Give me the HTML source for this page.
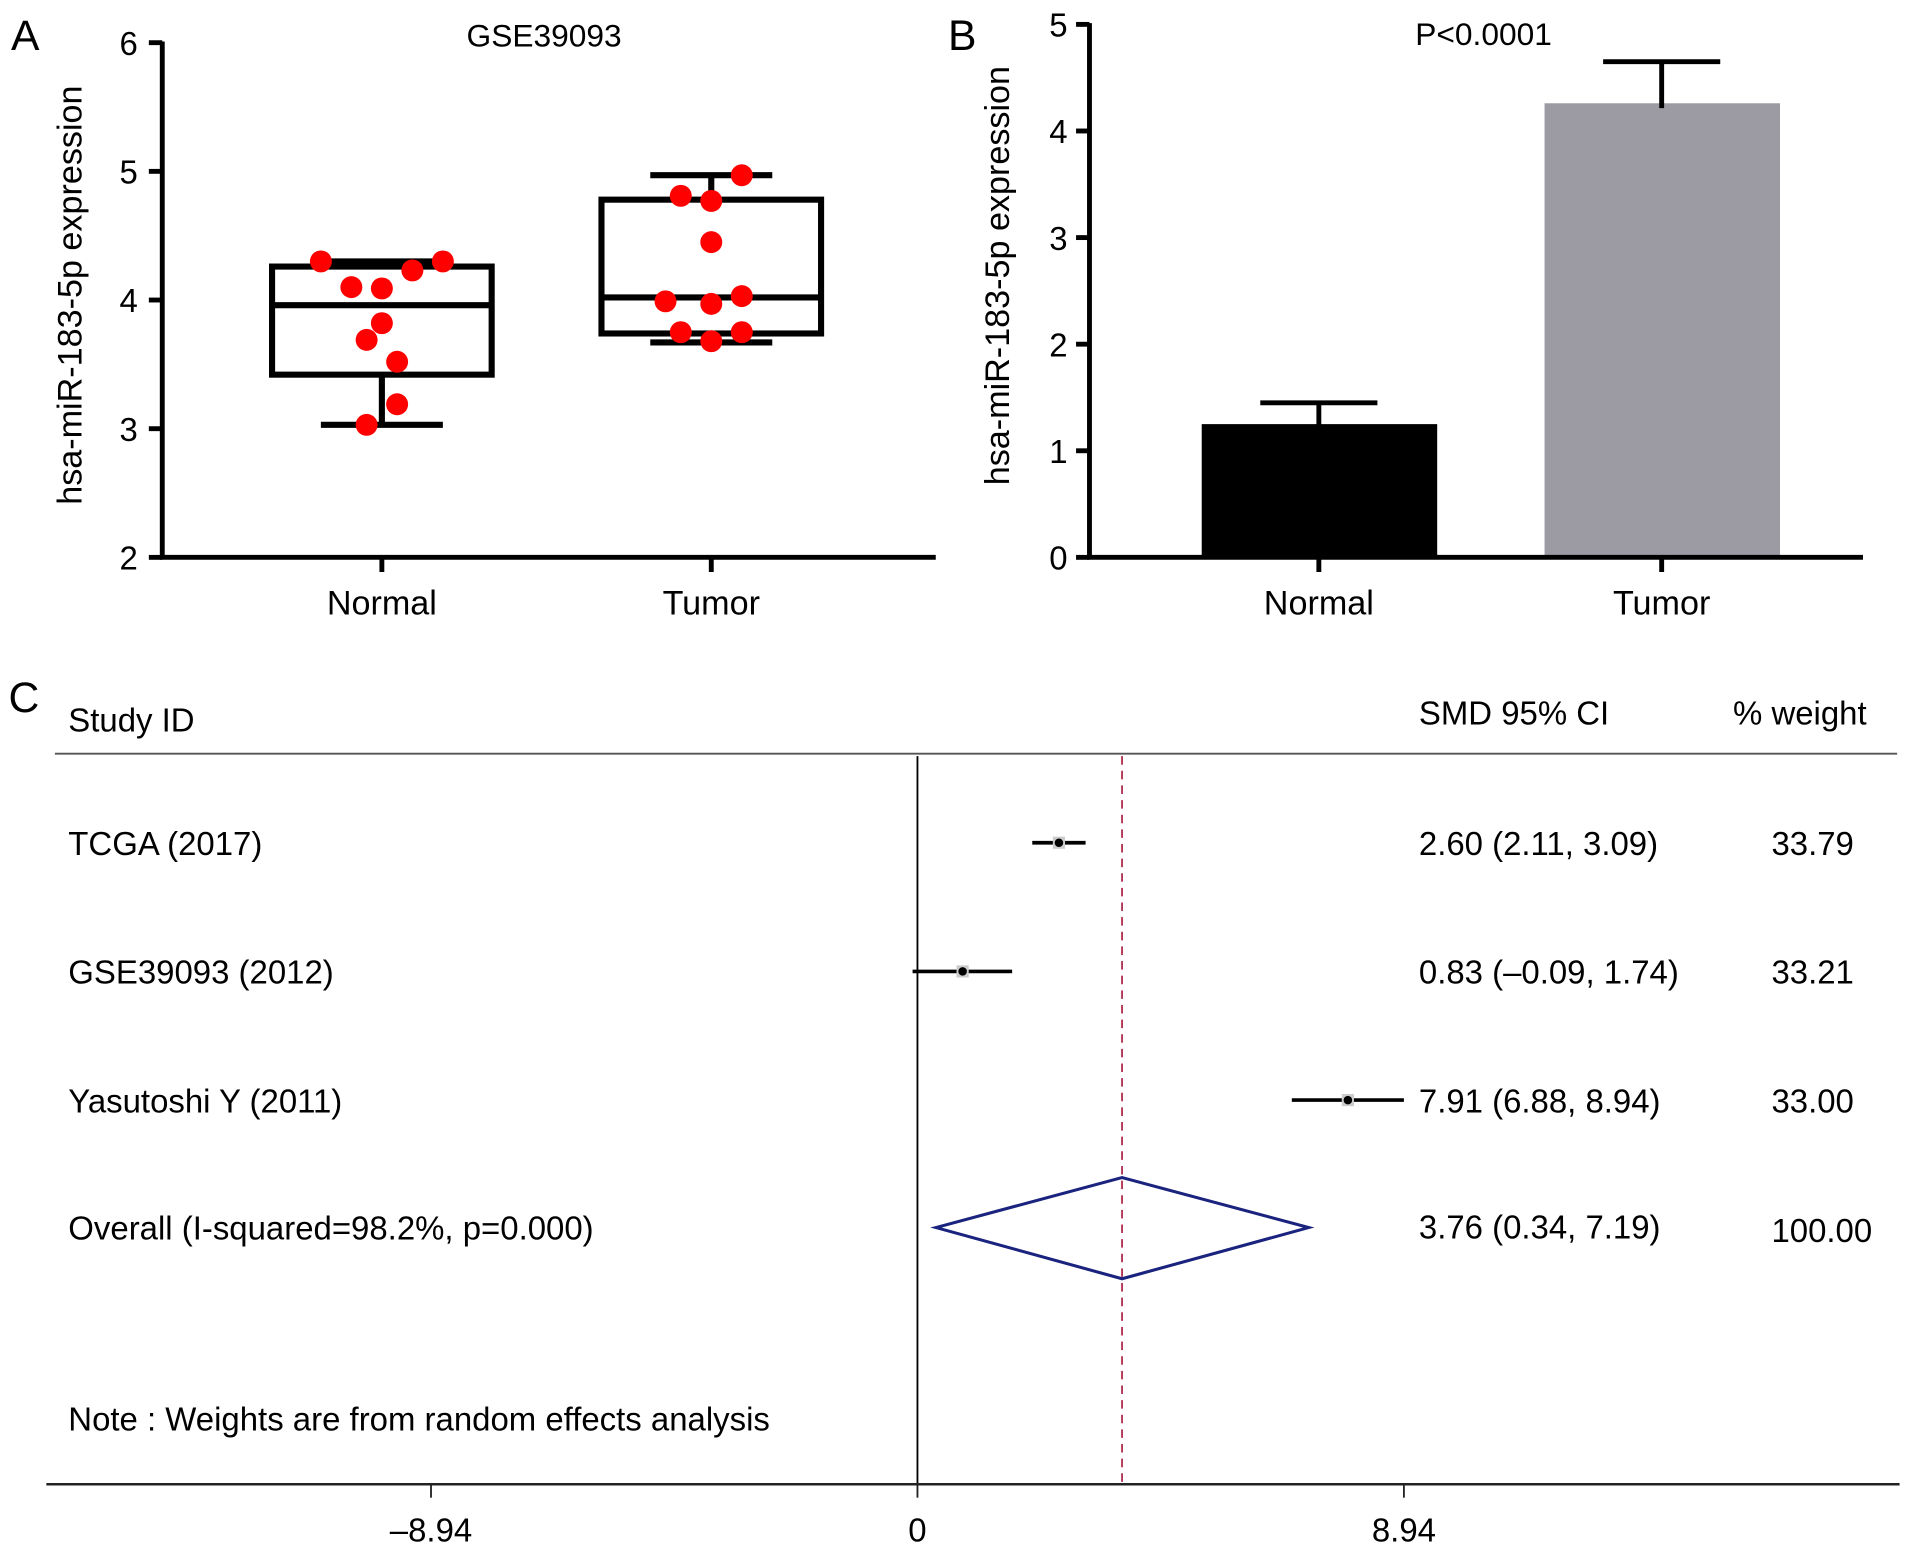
<!DOCTYPE html>
<html><head><meta charset="utf-8"><style>
html,body{margin:0;padding:0;background:#fff;}
svg{display:block;font-family:"Liberation Sans",Arial,sans-serif;}
</style></head><body>
<svg id="fig" width="1913" height="1555" viewBox="0 0 1568 1275" preserveAspectRatio="none">
<g id="pa"></g>
<g id="pb"></g>
<g id="pc"></g>
</svg>
<script>
// Panel A data
const aGroups = ["Normal", "Tumor"];
const aTicks = [2, 3, 4, 5, 6];
const aBox = [[3.03, 3.42, 3.96, 4.26, 4.30],[3.67, 3.74, 4.02, 4.78, 4.97]];
const aPtsNormal = [4.30, 4.30, 4.23, 4.10, 4.09, 3.82, 3.69, 3.52, 3.19, 3.03];
const aJitNormal = [-2, 2, 1, -1, 0, 0, -0.5, 0.5, 0.5, -0.5];
const aPtsTumor = [4.97, 4.81, 4.77, 4.45, 3.99, 3.97, 4.03, 3.75, 3.75, 3.68];
const aJitTumor = [1, -1, 0, 0, -1.5, 0, 1, -1, 1, 0];
// Panel B data
const bGroups = ["Normal", "Tumor"];
const bTicks = [0, 1, 2, 3, 4, 5];
const bMeans = [1.25, 4.26];
const bErr = [1.45, 4.65];
// Panel C data
const cStudies = ["TCGA (2017)", "GSE39093 (2012)", "Yasutoshi Y (2011)"];
const cEst = [2.60, 0.83, 7.91];
const cLo = [2.11, -0.09, 6.88];
const cHi = [3.09, 1.74, 8.94];
const cWeights = ["33.79", "33.21", "33.00"];
const cOverall = [3.76, 0.34, 7.19];
const cTicks = [-8.94, 0, 8.94];
const cTickLabels = ["\u20138.94", "0", "8.94"];

const NS = "http://www.w3.org/2000/svg";
function mk(parent, tag, attrs, text){
  const e = document.createElementNS(NS, tag);
  for (const k in attrs) e.setAttribute(k, attrs[k]);
  if (text !== undefined) e.textContent = text;
  parent.appendChild(e);
  return e;
}
const pa = document.getElementById('pa'), pb = document.getElementById('pb'), pc = document.getElementById('pc');

// ---------- Panel A ----------
const ay = v => 457 - (v - 2) * 105.5;
const ax = i => 313 + i * 270;
let t = mk(pa,'text',{x:9,y:41,'font-size':35}, 'A');


t = mk(pa,'text',{x:446,y:38,'font-size':26,'text-anchor':'middle'}, 'GSE39093');


t = mk(pa,'text',{x:0,y:0,'font-size':28,'text-anchor':'middle',transform:'translate(67,242) rotate(-90)'}, 'hsa-miR-183-5p expression');


let l = mk(pa,'path',{d:`M133 ${ay(6)-1} V${ay(2)} H767`,stroke:'#000','stroke-width':4,fill:'none'});


aTicks.forEach(v=>{
  let k = mk(pa,'line',{x1:122,x2:133,y1:ay(v),y2:ay(v),stroke:'#000','stroke-width':4});
  
  
  let s = mk(pa,'text',{x:113,y:ay(v)+10,'font-size':27,'text-anchor':'end'}, String(v));
  
  
});
aGroups.forEach((g,i)=>{
  let k = mk(pa,'line',{x1:ax(i),x2:ax(i),y1:ay(2),y2:ay(2)+12,stroke:'#000','stroke-width':4});
  
  
  let s = mk(pa,'text',{x:ax(i),y:504,'font-size':28,'text-anchor':'middle'}, g);
  
  
  const b = aBox[i];
  let w = mk(pa,'path',{d:`M${ax(i)} ${ay(b[0])} V${ay(b[1])} M${ax(i)} ${ay(b[3])} V${ay(b[4])} M${ax(i)-50} ${ay(b[0])} H${ax(i)+50} M${ax(i)-50} ${ay(b[4])} H${ax(i)+50}`,stroke:'#000','stroke-width':5,fill:'none'});
  
  
  let r = mk(pa,'rect',{x:ax(i)-90,y:ay(b[3]),width:180,height:ay(b[1])-ay(b[3]),fill:'none',stroke:'#000','stroke-width':5});
  
  
  let m = mk(pa,'line',{x1:ax(i)-90,x2:ax(i)+90,y1:ay(b[2]),y2:ay(b[2]),stroke:'#000','stroke-width':5});
  
  
});
[[aPtsNormal,aJitNormal],[aPtsTumor,aJitTumor]].forEach((p,i)=>{
  p[0].forEach((v,j)=>{
    let c = mk(pa,'circle',{cx:ax(i)+p[1][j]*25,cy:ay(v),r:9,fill:'#ff0000'});
    
    
  });
});

// ---------- Panel B ----------
const by = v => 457 - v * 87.4;
const bx = i => 1081 + i * 281;
t = mk(pb,'text',{x:777,y:41,'font-size':35}, 'B');


t = mk(pb,'text',{x:1216,y:37,'font-size':26,'text-anchor':'middle'}, 'P<0.0001');


t = mk(pb,'text',{x:0,y:0,'font-size':28,'text-anchor':'middle',transform:'translate(827,226) rotate(-90)'}, 'hsa-miR-183-5p expression');


bGroups.forEach((g,i)=>{
  let r = mk(pb,'rect',{x:bx(i)-96,y:by(bMeans[i]),width:193,height:by(0)-by(bMeans[i]),fill:i?'#9c9ba3':'#000'});
  
  
  let e = mk(pb,'path',{d:`M${bx(i)} ${by(bMeans[i])+4} V${by(bErr[i])} M${bx(i)-48} ${by(bErr[i])} H${bx(i)+48}`,stroke:'#000','stroke-width':4,fill:'none'});
  
  
  let k = mk(pb,'line',{x1:bx(i),x2:bx(i),y1:by(0),y2:by(0)+12,stroke:'#000','stroke-width':4});
  
  
  let s = mk(pb,'text',{x:bx(i),y:504,'font-size':28,'text-anchor':'middle'}, g);
  
  
});
l = mk(pb,'path',{d:`M893 ${by(5)-1} V${by(0)} H1527`,stroke:'#000','stroke-width':4,fill:'none'});


bTicks.forEach(v=>{
  let k = mk(pb,'line',{x1:882,x2:893,y1:by(v),y2:by(v),stroke:'#000','stroke-width':4});
  
  
  let s = mk(pb,'text',{x:875,y:by(v)+10,'font-size':27,'text-anchor':'end'}, String(v));
  
  
});

// ---------- Panel C ----------
const cx = v => 752 + v * 44.6;
const rowY = i => 691 + i * 105.5;
const F = 27;
t = mk(pc,'text',{x:7,y:584,'font-size':35}, 'C');


[['Study ID',56,600,'start','header-study-id'],['SMD 95% CI',1163,594,'start','header-smd'],['% weight',1530,594,'end','header-weight']].forEach(h=>{
  let s = mk(pc,'text',{x:h[1],y:h[2],'font-size':F,'text-anchor':h[3]}, h[0]);
  
  
});
l = mk(pc,'line',{x1:45,x2:1555,y1:618,y2:618,stroke:'#555','stroke-width':1.5});


l = mk(pc,'line',{x1:cx(0),x2:cx(0),y1:620,y2:1217,stroke:'#000','stroke-width':1.5});


l = mk(pc,'line',{x1:cx(cOverall[0]),x2:cx(cOverall[0]),y1:620,y2:1217,stroke:'#b03050','stroke-width':1.5,'stroke-dasharray':'7,5'});


cStudies.forEach((s,i)=>{
  const y = rowY(i);
  let a = mk(pc,'text',{x:56,y:y+10,'font-size':F}, s);
  
  
  let ci = mk(pc,'line',{x1:cx(cLo[i]),x2:cx(cHi[i]),y1:y,y2:y,stroke:'#000','stroke-width':3});
  
  
  let sq = mk(pc,'rect',{x:cx(cEst[i])-5,y:y-5,width:10,height:10,fill:'#ccc'});
  
  
  let d = mk(pc,'circle',{cx:cx(cEst[i]),cy:y,r:3.5,fill:'#000'});
  
  
  let v = mk(pc,'text',{x:1163,y:y+10,'font-size':F}, cEst[i].toFixed(2)+' ('+cLo[i].toFixed(2).replace('-','\u2013')+', '+cHi[i].toFixed(2)+')');
  
  
  let w = mk(pc,'text',{x:1452,y:y+10,'font-size':F}, cWeights[i]);
  
  
});
const oy = rowY(3) - 1;
t = mk(pc,'text',{x:56,y:oy+10,'font-size':F}, 'Overall (I-squared=98.2%, p=0.000)');


let dm = mk(pc,'polygon',{points:`${cx(cOverall[1])},${oy} ${cx(cOverall[0])},${oy-41} ${cx(cOverall[2])},${oy} ${cx(cOverall[0])},${oy+42}`,fill:'none',stroke:'#1a237e','stroke-width':2.5});


t = mk(pc,'text',{x:1163,y:oy+9,'font-size':F}, cOverall[0].toFixed(2)+' ('+cOverall[1].toFixed(2)+', '+cOverall[2].toFixed(2)+')');


t = mk(pc,'text',{x:1452,y:oy+12,'font-size':F}, '100.00');


t = mk(pc,'text',{x:56,y:1173,'font-size':F}, 'Note : Weights are from random effects analysis');


l = mk(pc,'line',{x1:38,x2:1557,y1:1217,y2:1217,stroke:'#222','stroke-width':2});


cTicks.forEach((v,i)=>{
  let k = mk(pc,'line',{x1:cx(v),x2:cx(v),y1:1217,y2:1228,stroke:'#222','stroke-width':1.5});
  
  
  let s = mk(pc,'text',{x:cx(v),y:1264,'font-size':F,'text-anchor':'middle'}, cTickLabels[i]);
  
  
});
</script>
</body></html>
